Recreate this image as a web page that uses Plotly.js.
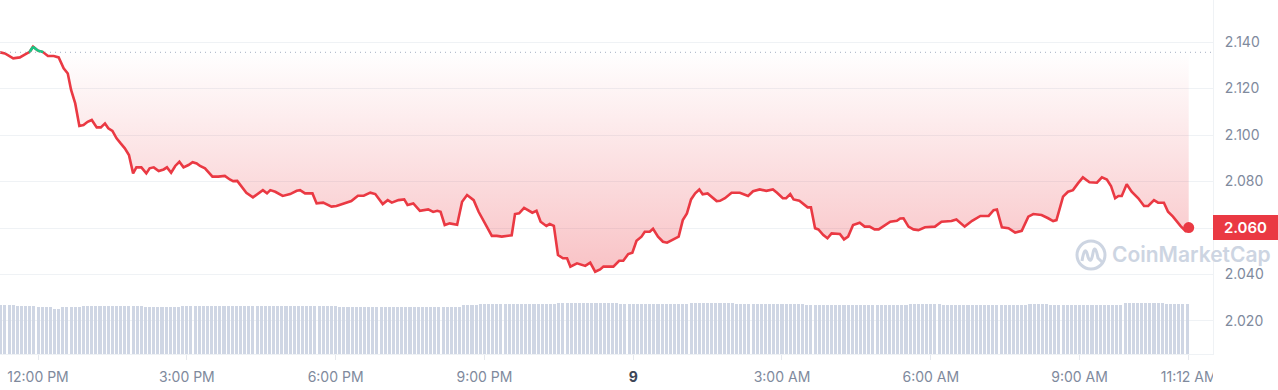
<!DOCTYPE html>
<html>
<head>
<meta charset="utf-8">
<script src="https://cdn.plot.ly/plotly-3.0.1.min.js"></script>
<style>html,body{margin:0;padding:0;background:#fff;}#chart{width:1278px;height:390px;}</style>
</head>
<body>
<div id="chart"></div>
<script>
// ---- Data ----
const priceTimes = [
"2025-01-08 11:14","2025-01-08 11:20","2025-01-08 11:30","2025-01-08 11:38","2025-01-08 11:46","2025-01-08 11:50","2025-01-08 11:54","2025-01-08 12:00","2025-01-08 12:06","2025-01-08 12:12",
"2025-01-08 12:19","2025-01-08 12:25","2025-01-08 12:31","2025-01-08 12:36","2025-01-08 12:40","2025-01-08 12:45","2025-01-08 12:50","2025-01-08 12:55","2025-01-08 13:00","2025-01-08 13:05",
"2025-01-08 13:11","2025-01-08 13:16","2025-01-08 13:21","2025-01-08 13:25","2025-01-08 13:30","2025-01-08 13:35","2025-01-08 13:40","2025-01-08 13:45","2025-01-08 13:50","2025-01-08 13:55",
"2025-01-08 13:59","2025-01-08 14:05","2025-01-08 14:11","2025-01-08 14:15","2025-01-08 14:20","2025-01-08 14:26","2025-01-08 14:32","2025-01-08 14:36","2025-01-08 14:41","2025-01-08 14:46",
"2025-01-08 14:51","2025-01-08 14:56","2025-01-08 15:02","2025-01-08 15:07","2025-01-08 15:12","2025-01-08 15:16","2025-01-08 15:22","2025-01-08 15:26","2025-01-08 15:31","2025-01-08 15:38",
"2025-01-08 15:46","2025-01-08 15:52","2025-01-08 15:56","2025-01-08 16:01","2025-01-08 16:06","2025-01-08 16:12","2025-01-08 16:20","2025-01-08 16:26","2025-01-08 16:32","2025-01-08 16:37",
"2025-01-08 16:41","2025-01-08 16:47","2025-01-08 16:56","2025-01-08 17:05","2025-01-08 17:13","2025-01-08 17:17","2025-01-08 17:23","2025-01-08 17:32","2025-01-08 17:37","2025-01-08 17:45",
"2025-01-08 17:55","2025-01-08 18:01","2025-01-08 18:07","2025-01-08 18:19","2025-01-08 18:27","2025-01-08 18:34","2025-01-08 18:42","2025-01-08 18:48","2025-01-08 18:57","2025-01-08 19:03",
"2025-01-08 19:08","2025-01-08 19:16","2025-01-08 19:23","2025-01-08 19:27","2025-01-08 19:34","2025-01-08 19:42","2025-01-08 19:52","2025-01-08 19:58","2025-01-08 20:03","2025-01-08 20:07",
"2025-01-08 20:12","2025-01-08 20:18","2025-01-08 20:27","2025-01-08 20:33","2025-01-08 20:39","2025-01-08 20:47","2025-01-08 20:53","2025-01-08 20:59","2025-01-08 21:09","2025-01-08 21:15",
"2025-01-08 21:21","2025-01-08 21:33","2025-01-08 21:37","2025-01-08 21:42","2025-01-08 21:48","2025-01-08 21:58","2025-01-08 22:03","2025-01-08 22:08","2025-01-08 22:15","2025-01-08 22:19",
"2025-01-08 22:24","2025-01-08 22:29","2025-01-08 22:35","2025-01-08 22:40","2025-01-08 22:44","2025-01-08 22:52","2025-01-08 23:02","2025-01-08 23:08","2025-01-08 23:14","2025-01-08 23:20",
"2025-01-08 23:24","2025-01-08 23:36","2025-01-08 23:43","2025-01-08 23:48","2025-01-08 23:54","2025-01-08 23:59","2025-01-09 00:04","2025-01-09 00:10","2025-01-09 00:14","2025-01-09 00:20",
"2025-01-09 00:24","2025-01-09 00:30","2025-01-09 00:36","2025-01-09 00:41","2025-01-09 00:47","2025-01-09 00:55","2025-01-09 01:00","2025-01-09 01:05","2025-01-09 01:10","2025-01-09 01:15",
"2025-01-09 01:20","2025-01-09 01:24","2025-01-09 01:30","2025-01-09 01:35","2025-01-09 01:41","2025-01-09 01:45","2025-01-09 01:51","2025-01-09 01:59","2025-01-09 02:09","2025-01-09 02:19",
"2025-01-09 02:25","2025-01-09 02:33","2025-01-09 02:41","2025-01-09 02:49","2025-01-09 02:54","2025-01-09 03:01","2025-01-09 03:05","2025-01-09 03:10","2025-01-09 03:14","2025-01-09 03:21",
"2025-01-09 03:27","2025-01-09 03:31","2025-01-09 03:35","2025-01-09 03:40","2025-01-09 03:44","2025-01-09 03:50","2025-01-09 03:55","2025-01-09 04:00","2025-01-09 04:10","2025-01-09 04:15",
"2025-01-09 04:20","2025-01-09 04:26","2025-01-09 04:34","2025-01-09 04:40","2025-01-09 04:46","2025-01-09 04:52","2025-01-09 04:57","2025-01-09 05:03","2025-01-09 05:11","2025-01-09 05:19",
"2025-01-09 05:23","2025-01-09 05:27","2025-01-09 05:33","2025-01-09 05:39","2025-01-09 05:45","2025-01-09 05:53","2025-01-09 06:05","2025-01-09 06:13","2025-01-09 06:25","2025-01-09 06:31",
"2025-01-09 06:41","2025-01-09 06:50","2025-01-09 07:00","2025-01-09 07:10","2025-01-09 07:16","2025-01-09 07:20","2025-01-09 07:26","2025-01-09 07:34","2025-01-09 07:42","2025-01-09 07:50",
"2025-01-09 07:58","2025-01-09 08:04","2025-01-09 08:14","2025-01-09 08:22","2025-01-09 08:28","2025-01-09 08:32","2025-01-09 08:40","2025-01-09 08:46","2025-01-09 08:52","2025-01-09 08:58",
"2025-01-09 09:04","2025-01-09 09:12","2025-01-09 09:21","2025-01-09 09:27","2025-01-09 09:33","2025-01-09 09:38","2025-01-09 09:43","2025-01-09 09:47","2025-01-09 09:51","2025-01-09 09:57",
"2025-01-09 10:03","2025-01-09 10:11","2025-01-09 10:18","2025-01-09 10:23","2025-01-09 10:30","2025-01-09 10:35","2025-01-09 10:42","2025-01-09 10:47","2025-01-09 10:53","2025-01-09 11:02",
"2025-01-09 11:08","2025-01-09 11:12"
];
const priceValues = [
2.1356,2.1351,2.1330,2.1334,2.1350,2.1358,2.1380,2.1363,2.1357,2.1340,
2.1340,2.1334,2.1287,2.1265,2.1194,2.1136,2.1039,2.1043,2.1057,2.1065,
2.1033,2.1033,2.1050,2.1029,2.1018,2.0986,2.0964,2.0943,2.0914,2.0835,
2.0861,2.0861,2.0835,2.0857,2.0861,2.0845,2.0852,2.0861,2.0838,2.0867,
2.0885,2.0861,2.0871,2.0883,2.0878,2.0867,2.0857,2.0842,2.0821,2.0821,
2.0824,2.0809,2.0802,2.0803,2.0778,2.0752,2.0732,2.0749,2.0763,2.0749,
2.0763,2.0756,2.0738,2.0746,2.0760,2.0763,2.0749,2.0749,2.0706,2.0709,
2.0692,2.0695,2.0703,2.0716,2.0739,2.0739,2.0752,2.0746,2.0703,2.0720,
2.0709,2.0720,2.0723,2.0699,2.0706,2.0674,2.0680,2.0669,2.0674,2.0670,
2.0613,2.0620,2.0614,2.0713,2.0742,2.0720,2.0670,2.0631,2.0566,2.0566,
2.0563,2.0569,2.0660,2.0663,2.0687,2.0666,2.0674,2.0627,2.0609,2.0617,
2.0609,2.0484,2.0470,2.0470,2.0434,2.0448,2.0437,2.0451,2.0412,2.0422,
2.0434,2.0434,2.0459,2.0459,2.0488,2.0494,2.0545,2.0563,2.0584,2.0584,
2.0597,2.0563,2.0541,2.0537,2.0548,2.0563,2.0634,2.0663,2.0723,2.0749,
2.0766,2.0745,2.0749,2.0735,2.0716,2.0717,2.0728,2.0752,2.0752,2.0738,
2.0758,2.0766,2.0760,2.0766,2.0752,2.0728,2.0728,2.0746,2.0723,2.0717,
2.0699,2.0689,2.0689,2.0599,2.0594,2.0570,2.0556,2.0577,2.0574,2.0551,
2.0563,2.0613,2.0623,2.0606,2.0606,2.0594,2.0594,2.0609,2.0627,2.0631,
2.0641,2.0642,2.0606,2.0594,2.0591,2.0603,2.0606,2.0627,2.0630,2.0637,
2.0606,2.0631,2.0652,2.0652,2.0677,2.0680,2.0603,2.0599,2.0580,2.0588,
2.0649,2.0660,2.0656,2.0642,2.0630,2.0634,2.0735,2.0756,2.0763,2.0792,
2.0818,2.0797,2.0795,2.0818,2.0809,2.0781,2.0728,2.0738,2.0738,2.0788,
2.0756,2.0728,2.0695,2.0695,2.0720,2.0709,2.0709,2.0670,2.0649,2.0609,
2.0588,2.0602
];
// 24h volume (billions USD) sampled every 5 minutes, first bar at volumeStart
const volumeStart = "2025-01-08 11:15";
const volumeStepMinutes = 5;
const volumeValues = [
4.90,4.91,4.90,4.89,4.80,4.81,4.80,4.79,4.80,4.68,
4.67,4.67,4.66,4.54,4.53,4.66,4.67,4.68,4.67,4.68,
4.80,4.81,4.80,4.80,4.79,4.80,4.81,4.80,4.80,4.79,
4.80,4.80,4.81,4.80,4.79,4.67,4.66,4.67,4.67,4.68,
4.67,4.66,4.67,4.68,4.79,4.78,4.78,4.79,4.78,4.77,
4.78,4.79,4.78,4.78,4.79,4.78,4.78,4.77,4.78,4.79,
4.78,4.78,4.79,4.78,4.78,4.77,4.78,4.79,4.78,4.78,
4.79,4.78,4.78,4.77,4.78,4.79,4.78,4.78,4.79,4.80,
4.80,4.79,4.67,4.66,4.67,4.67,4.68,4.67,4.66,4.67,
4.67,4.68,4.67,4.66,4.67,4.67,4.68,4.67,4.66,4.67,
4.67,4.68,4.67,4.66,4.67,4.67,4.68,4.67,4.67,4.68,
4.67,4.68,4.86,4.87,4.88,4.87,4.96,4.97,4.97,4.98,
4.97,4.96,4.97,4.97,4.98,4.97,4.96,4.97,4.98,4.97,
5.00,5.01,5.00,4.99,5.00,5.07,5.08,5.07,5.06,5.07,
5.07,5.08,5.07,5.06,5.07,5.07,5.08,5.07,5.06,5.07,
4.97,4.96,4.97,4.97,4.98,4.97,4.96,4.97,4.98,4.97,
4.97,4.96,4.97,4.97,4.98,4.97,4.96,5.13,5.14,5.13,
5.12,5.13,5.14,5.13,5.12,5.13,5.14,5.13,4.98,4.97,
4.98,4.99,4.98,4.97,4.98,4.98,4.99,4.98,4.97,4.98,
4.98,4.99,4.98,4.97,4.98,4.90,4.91,4.90,4.89,4.90,
4.90,4.91,4.90,4.89,4.90,4.90,4.91,4.90,4.89,4.90,
4.90,4.91,4.90,4.89,4.90,4.90,4.91,4.90,4.89,4.90,
5.03,5.04,5.03,5.02,5.03,5.04,5.03,5.02,4.93,4.94,
4.93,4.92,4.93,4.93,4.94,4.93,4.92,4.93,4.93,4.94,
4.93,4.92,4.93,4.93,4.94,4.93,4.92,4.93,4.93,5.03,
5.04,5.03,5.02,5.03,4.90,4.91,4.90,4.89,4.90,4.90,
4.91,4.90,4.89,4.90,4.90,4.91,4.90,4.89,4.90,4.90,
4.91,4.90,5.13,5.14,5.13,5.12,5.13,5.14,5.13,5.12,
5.13,5.14,5.03,5.04,5.03,5.02,5.03,5.03
];
const xTickTimes = ["2025-01-08 12:00","2025-01-08 15:00","2025-01-08 18:00","2025-01-08 21:00","2025-01-09 00:00","2025-01-09 03:00","2025-01-09 06:00","2025-01-09 09:00","2025-01-09 11:12"];
const xTickLabels = ["12:00 PM","3:00 PM","6:00 PM","9:00 PM","<b><span style=\"color:#3d4656\">9</span></b>","3:00 AM","6:00 AM","9:00 AM","11:12 AM"];
const yTickValues = [2.02,2.04,2.06,2.08,2.10,2.12,2.14];
// the 2.060 level is labelled by the red last-price tag instead
const yTickLabels = ["2.020","2.040","","2.080","2.100","2.120","2.140"];

// ---- helpers ----
function toMs(s){
  const [d,t] = s.split(' ');
  const [Y,M,D] = d.split('-').map(Number);
  const tp = t.split(':').map(Number);
  return Date.UTC(Y, M-1, D, tp[0], tp[1], tp[2]||0);
}
const RED = '#ea3943', GREEN = '#16c784';
const px = priceTimes.map(toMs);
const base = priceValues[0];
const n = px.length;

// green segments where price is above the opening price
const gx = [], gy = [];
for (let i = 0; i < n-1; i++){
  const a = priceValues[i], b = priceValues[i+1];
  if (a <= base && b <= base) continue;
  let t0 = px[i], v0 = a, t1 = px[i+1], v1 = b;
  if (a < base){ const f = (base-a)/(b-a); t0 = px[i] + f*(px[i+1]-px[i]); v0 = base; }
  if (b < base){ const f = (base-a)/(b-a); t1 = px[i] + f*(px[i+1]-px[i]); v1 = base; }
  gx.push(t0, t1, null); gy.push(v0, v1, null);
}

const vStart = toMs(volumeStart);
const vx = volumeValues.map((_, i) => vStart + i*volumeStepMinutes*60000);

const traces = [
  { type:'bar', x: vx, y: volumeValues, yaxis:'y2', marker:{color:'#cfd6e4', line:{width:0}},
    width: volumeStepMinutes*60000*0.74, hoverinfo:'skip' },
  { type:'scatter', mode:'lines', x:[px[0], px[n-1]], y:[base, base],
    line:{width:0, color:'rgba(0,0,0,0)'}, hoverinfo:'skip' },
  { type:'scatter', mode:'lines', x: px, y: priceValues, fill:'tonexty',
    fillgradient:{type:'vertical', start:2.040, stop:base,
      colorscale:[[0,'rgba(234,57,67,0.31)'],[1,'rgba(234,57,67,0.0)']]},
    fillcolor:'rgba(234,57,67,0.12)',
    line:{color:RED, width:2.6, shape:'linear'} },
  { type:'scatter', mode:'lines', x: gx, y: gy, connectgaps:false,
    line:{color:GREEN, width:2.6} },
  { type:'scatter', mode:'markers', x:[px[n-1]], y:[priceValues[n-1]],
    marker:{color:RED, size:11} }
];

const wmColor = '#cdd5e2';
// logo geometry in paper coords (plot area 1213 x 354 px)
const PW = 1213, PH = 354;
const pX = v => v/PW, pY = v => 1 - v/PH;
const cx = 1091, cy = 255, r = 14;
const wave = 'M ' + pX(cx-9)+','+pY(cy+6) +
  ' Q ' + pX(cx-6)+','+pY(cy-12) + ' ' + pX(cx-3)+','+pY(cy+2) +
  ' Q ' + pX(cx)+','+pY(cy+10) + ' ' + pX(cx+2)+','+pY(cy-2) +
  ' Q ' + pX(cx+4)+','+pY(cy-12) + ' ' + pX(cx+7)+','+pY(cy+3) +
  ' L ' + pX(cx+12)+','+pY(cy+8);

const layout = {
  width:1278, height:390,
  margin:{l:0, r:65, t:0, b:36, pad:0},
  paper_bgcolor:'#ffffff', plot_bgcolor:'#ffffff',
  showlegend:false, bargap:0,
  font:{family:'Inter, "Open Sans", sans-serif', color:'#808a9d', size:14},
  xaxis:{type:'date', range:['2025-01-08 11:14:00','2025-01-09 11:41:24'],
    tickvals: xTickTimes.map(toMs), ticktext: xTickLabels,
    showgrid:false, zeroline:false, showline:true, linecolor:'#eff2f5', linewidth:1,
    ticks:'outside', ticklen:5, tickcolor:'#e6e9ee', tickwidth:1,
    ticklabelstandoff:5, tickfont:{size:14, color:'#808a9d'}, fixedrange:true},
  yaxis:{side:'right', range:[2.0058, 2.1581], tickvals:yTickValues, ticktext:yTickLabels,
    showgrid:true, gridcolor:'#eff2f5', gridwidth:1, zeroline:false,
    showline:true, linecolor:'#eff2f5', linewidth:1, ticks:'', ticklabelstandoff:8,
    tickfont:{size:14, color:'#808a9d'}, fixedrange:true},
  yaxis2:{overlaying:'y', range:[0, 35.4], visible:false, fixedrange:true},
  shapes:[
    {type:'line', xref:'paper', yref:'y', x0:0, x1:1, y0:base, y1:base,
      line:{color:'#a6b0c3', width:1, dash:'1px,4px'}, layer:'above'},
    {type:'rect', xref:'paper', yref:'paper', x0:1, x1:1.06, y0:-0.11, y1:-0.003,
      fillcolor:'#ffffff', line:{width:0}, layer:'above'},
    {type:'circle', xref:'paper', yref:'paper', x0:pX(cx-r), x1:pX(cx+r), y0:pY(cy+r), y1:pY(cy-r),
      line:{color:wmColor, width:3}, layer:'above'},
    {type:'path', xref:'paper', yref:'paper', path: wave, line:{color:wmColor, width:3}, layer:'above'}
  ],
  annotations:[
    {xref:'paper', yref:'paper', x:pX(1110), y:pY(254), xanchor:'left', yanchor:'middle',
      text:'CoinMarketCap', showarrow:false,
      font:{family:'Inter, sans-serif', size:21, color:wmColor, weight:600}},
    {xref:'paper', yref:'y', x:1, y:priceValues[n-1], xanchor:'left', yanchor:'middle',
      text: priceValues[n-1].toFixed(3), showarrow:false, bgcolor:RED, width:63, height:23,
      borderpad:0, borderwidth:1, bordercolor:RED, align:'center',
      font:{family:'Inter, sans-serif', size:15, color:'#ffffff', weight:600}}
  ]
};

Plotly.newPlot('chart', traces, layout, {displayModeBar:false, staticPlot:true});
</script>
</body>
</html>
